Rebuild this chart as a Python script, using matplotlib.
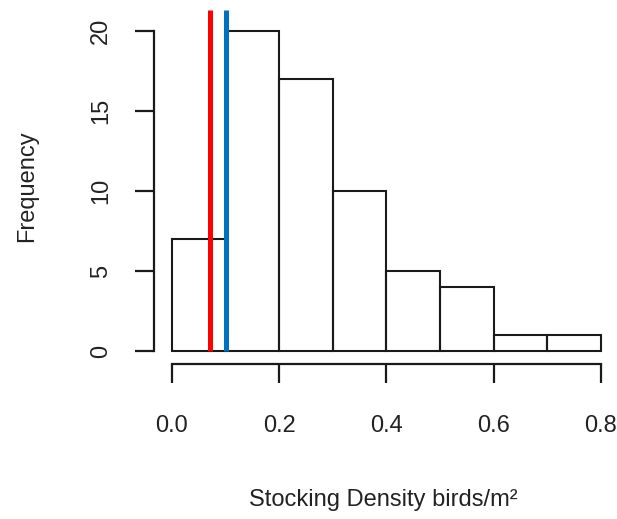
import matplotlib
matplotlib.use("Agg")
import matplotlib.pyplot as plt

# histogram of stocking density, 0.1-wide bins
bin_edges = [0.0, 0.1, 0.2, 0.3, 0.4, 0.5, 0.6, 0.7, 0.8]
counts = [7, 20, 17, 10, 5, 4, 1, 1]

# reference lines
ref_x = [0.07, 0.1]
ref_colors = ["#FF0000", "#0070C0"]
ref_top = 21.3

x_ticks = [0.0, 0.2, 0.4, 0.6, 0.8]
x_ticklabels = ["0.0", "0.2", "0.4", "0.6", "0.8"]
y_ticks = [0, 5, 10, 15, 20]

plt.rcParams["font.family"] = ["Liberation Sans", "DejaVu Sans"]

W, H = 617, 519
fig = plt.figure(figsize=(W / 100, H / 100), dpi=100)

# axes placed in pixel terms
left_px, right_px = 153.2, 614.4
bottom_px, top_px = 364.6, 8.6
ax = fig.add_axes([left_px / W, 1 - bottom_px / H,
                   (right_px - left_px) / W, (bottom_px - top_px) / H])
ax.set_xlim(-0.035, 0.825)
ax.set_ylim(-0.85, 21.4)

lefts = bin_edges[:-1]
widths = [b - a for a, b in zip(bin_edges[:-1], bin_edges[1:])]
ax.bar(lefts, counts, width=widths, align="edge", fill=False,
       edgecolor="#1a1a1a", linewidth=1.5, zorder=2)

for x, c in zip(ref_x, ref_colors):
    ax.vlines(x, 0, ref_top, colors=c, linewidth=3.6, zorder=3, clip_on=False)

# R-style detached axes
ax.spines["top"].set_visible(False)
ax.spines["right"].set_visible(False)
ax.spines["bottom"].set_position(("data", -0.81))
ax.spines["bottom"].set_bounds(0, 0.8)
ax.spines["left"].set_position(("data", -0.033))
ax.spines["left"].set_bounds(0, 20)
for s in ("bottom", "left"):
    ax.spines[s].set_linewidth(1.6)
    ax.spines[s].set_color("#1a1a1a")

ax.set_xticks(x_ticks)
ax.set_xticklabels(x_ticklabels)
ax.set_yticks(y_ticks)
ax.set_yticklabels([str(v) for v in y_ticks], rotation=90, va="center")
ax.tick_params(axis="both", direction="out", length=13.5, width=1.6,
               color="#1a1a1a", labelsize=17, labelcolor="#222222")
ax.tick_params(axis="x", pad=23)
ax.tick_params(axis="y", pad=17)

ax.set_xlabel("Stocking Density birds/m²", fontsize=17, color="#222222", labelpad=38)
ax.set_ylabel("Frequency", fontsize=17, color="#222222", labelpad=37)

fig.savefig("out.png", dpi=100)
